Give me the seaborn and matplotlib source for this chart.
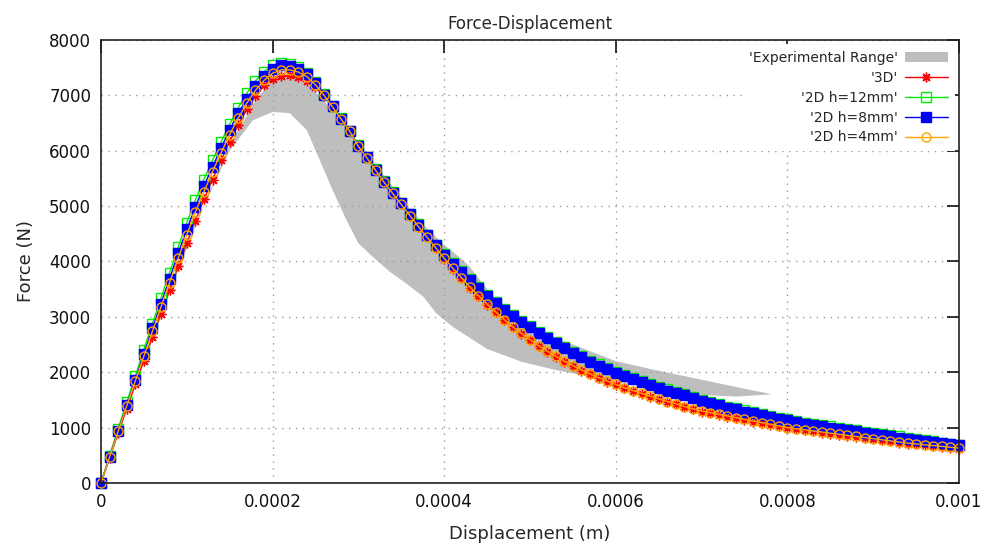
import numpy as np
import matplotlib
matplotlib.use("Agg")
import matplotlib.pyplot as plt
import seaborn as sns

# displacement samples of the simulations, in micrometres (every 10 um)
disp_um = list(range(0, 1001, 10))

force_3d = [
    0, 450, 900, 1340, 1780, 2210, 2640, 3060, 3480, 3910,
    4330, 4740, 5120, 5480, 5830, 6160, 6470, 6750, 6990, 7180,
    7300, 7350, 7360, 7330, 7260, 7150, 6990, 6790, 6570, 6350,
    6080, 5870, 5650, 5430, 5230, 5030, 4830, 4630, 4440, 4250,
    4050, 3870, 3700, 3530, 3370, 3220, 3080, 2940, 2810, 2690,
    2580, 2470, 2370, 2280, 2190, 2110, 2030, 1960, 1890, 1830,
    1770, 1710, 1660, 1610, 1560, 1510, 1460, 1420, 1370, 1330,
    1290, 1260, 1230, 1200, 1170, 1140, 1110, 1080, 1050, 1020,
    990, 970, 950, 930, 910, 890, 870, 850, 830, 810,
    790, 770, 750, 730, 710, 695, 680, 665, 650, 635,
    620]

force_h12 = [
    0, 490, 980, 1460, 1930, 2410, 2880, 3340, 3800, 4260,
    4700, 5110, 5480, 5830, 6160, 6480, 6780, 7040, 7260, 7430,
    7540, 7590, 7570, 7510, 7400, 7240, 7030, 6810, 6590, 6360,
    6100, 5890, 5670, 5450, 5250, 5060, 4860, 4670, 4480, 4300,
    4130, 3980, 3830, 3690, 3540, 3400, 3270, 3150, 3030, 2930,
    2830, 2730, 2630, 2540, 2450, 2370, 2290, 2210, 2140, 2070,
    2010, 1950, 1890, 1840, 1790, 1740, 1690, 1640, 1600, 1550,
    1500, 1460, 1420, 1380, 1350, 1310, 1280, 1250, 1210, 1180,
    1150, 1120, 1090, 1070, 1040, 1020, 990, 970, 950, 920,
    900, 880, 860, 840, 820, 790, 770, 750, 730, 710,
    690]

force_h8 = [
    0, 470, 940, 1400, 1860, 2330, 2790, 3240, 3690, 4150,
    4580, 4990, 5360, 5710, 6050, 6380, 6680, 6940, 7170, 7350,
    7480, 7540, 7530, 7480, 7390, 7220, 7010, 6800, 6580, 6350,
    6080, 5880, 5660, 5440, 5240, 5050, 4850, 4660, 4470, 4290,
    4110, 3960, 3810, 3670, 3520, 3380, 3250, 3130, 3010, 2910,
    2810, 2710, 2610, 2520, 2430, 2350, 2270, 2190, 2120, 2050,
    1990, 1930, 1870, 1820, 1770, 1720, 1670, 1620, 1580, 1530,
    1480, 1440, 1400, 1360, 1330, 1290, 1260, 1230, 1190, 1160,
    1130, 1100, 1070, 1050, 1020, 1000, 970, 950, 930, 900,
    880, 860, 840, 820, 800, 780, 760, 740, 720, 705,
    690]

force_h4 = [
    0, 465, 930, 1390, 1840, 2290, 2740, 3180, 3620, 4060,
    4480, 4890, 5260, 5620, 5960, 6290, 6590, 6860, 7090, 7270,
    7400, 7460, 7460, 7420, 7340, 7190, 7000, 6790, 6570, 6350,
    6080, 5870, 5650, 5430, 5230, 5030, 4830, 4630, 4440, 4250,
    4060, 3880, 3710, 3540, 3380, 3230, 3090, 2950, 2820, 2700,
    2590, 2480, 2380, 2290, 2200, 2120, 2040, 1970, 1900, 1840,
    1780, 1720, 1670, 1620, 1570, 1520, 1470, 1430, 1380, 1340,
    1300, 1270, 1240, 1210, 1180, 1150, 1120, 1090, 1060, 1030,
    1000, 980, 960, 940, 920, 900, 880, 860, 840, 820,
    800, 780, 760, 740, 720, 705, 690, 675, 660, 645,
    630]

# experimental range envelope
exp_upper_x = [0, 0.00005, 0.0001, 0.00015, 0.00018, 0.0002, 0.00022, 0.00024,
               0.00026, 0.00028, 0.0003, 0.00032, 0.00034, 0.00036, 0.00038,
               0.0004, 0.00042, 0.00043, 0.00044, 0.00046, 0.00048, 0.0005,
               0.00053, 0.00056, 0.0006, 0.00064, 0.00068, 0.00072, 0.00076, 0.00078]
exp_upper = [0, 2200, 4300, 6100, 6900, 7300, 7350, 7200,
             6900, 6550, 6150, 5750, 5350, 4950, 4600,
             4300, 4050, 3900, 3700, 3300, 3000, 2830,
             2620, 2440, 2200, 2060, 1930, 1800, 1670, 1610]
exp_lower_x = [0, 0.000036, 0.00007, 0.000094, 0.00012, 0.00015, 0.000177, 0.0002,
               0.00022, 0.00024, 0.000255, 0.00027, 0.000286, 0.0003, 0.000317,
               0.000337, 0.000356, 0.000376, 0.000391, 0.00041, 0.00043, 0.00045,
               0.00049, 0.00053, 0.00057, 0.00061, 0.00065, 0.0007, 0.00074, 0.00078]
exp_lower = [0, 1560, 3000, 4000, 5000, 6000, 6550, 6700,
             6680, 6370, 5830, 5290, 4750, 4330, 4080,
             3810, 3600, 3360, 3060, 2820, 2620, 2420,
             2190, 2040, 1920, 1810, 1690, 1590, 1560, 1600]

x_ticks = [0, 0.0002, 0.0004, 0.0006, 0.0008, 0.001]
x_ticklabels = ["0", "0.0002", "0.0004", "0.0006", "0.0008", "0.001"]
y_ticks = [0, 1000, 2000, 3000, 4000, 5000, 6000, 7000, 8000]

sns.set_theme(style="white")
plt.rcParams["font.family"] = ["DejaVu Sans"]
plt.rcParams["axes.axisbelow"] = "line"

disp = np.array(disp_um) * 1e-6

fig, ax = plt.subplots(figsize=(9.85, 5.54), dpi=100)
fig.subplots_adjust(left=0.1025, right=0.9736, top=0.9278, bottom=0.1282)

# gray band: upper edge forward, lower edge back
band_x = exp_upper_x + exp_lower_x[::-1]
band_y = exp_upper + exp_lower[::-1]
ax.fill(band_x, band_y, color="#bebebe", linewidth=0, zorder=1,
        label="'Experimental Range'")

series = [
    ("'3D'", force_3d, "#ff0000", (8, 2, 0), 7, "#ff0000"),
    ("'2D h=12mm'", force_h12, "#00ee00", "s", 6.5, "none"),
    ("'2D h=8mm'", force_h8, "#0000ff", "s", 6.5, "#0000ff"),
    ("'2D h=4mm'", force_h4, "#ffa500", "o", 6.5, "none"),
]
for name, vals, col, mk, ms, mfc in series:
    sns.lineplot(x=disp, y=vals, ax=ax, color=col, linewidth=1.0,
                 marker=mk, markersize=ms, markerfacecolor=mfc,
                 markeredgecolor=col, markeredgewidth=1.0,
                 sort=False, estimator=None, label=name, clip_on=False)

ax.set_xlim(0, 0.001)
ax.set_ylim(0, 8000)
ax.set_xticks(x_ticks)
ax.set_xticklabels(x_ticklabels)
ax.set_yticks(y_ticks)
ax.set_yticklabels([str(v) for v in y_ticks])

ax.grid(True, color="#9a9a9a", linestyle=(0, (1, 4)), linewidth=1.0)
ax.tick_params(direction="in", length=9, width=1.2, top=True, right=True,
               labelsize=12, colors="#111111", pad=7)
for sp in ax.spines.values():
    sp.set_color("#222222")
    sp.set_linewidth(1.2)

ax.set_title("Force-Displacement", fontsize=12, pad=8)
ax.set_xlabel("Displacement (m)", fontsize=13, labelpad=10)
ax.set_ylabel("Force (N)", fontsize=13, labelpad=10)

leg = ax.legend(loc="upper right", markerfirst=False, fontsize=10,
                frameon=True, facecolor="white", edgecolor="none", framealpha=1,
                fancybox=False, handlelength=3.1, handletextpad=0.5,
                labelspacing=0.42, borderpad=0.5, borderaxespad=0.3)
leg.set_zorder(5)

fig.savefig("out.png", dpi=100)
